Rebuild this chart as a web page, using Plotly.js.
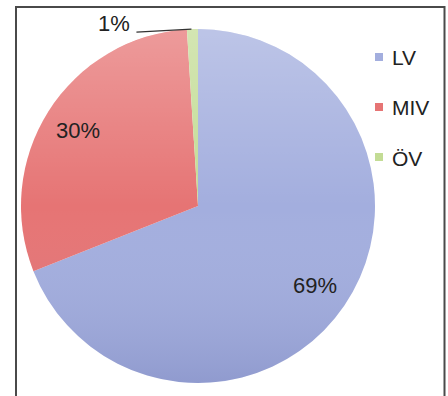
<!DOCTYPE html>
<html>
<head>
<meta charset="utf-8">
<script src="https://cdn.plot.ly/plotly-3.0.1.min.js"></script>
<style>
  html, body { margin: 0; padding: 0; background: #fff; }
  #chart { width: 448px; height: 396px; }
</style>
</head>
<body>
<div id="chart"></div>
<script>
// Modal split: share of trips per mode
const categories = ['LV', 'MIV', 'ÖV'];
const shares = [69, 30, 1];
const sliceColors = ['#a3aede', '#e67474', '#c3dc95'];

// Page geometry (pixels)
const W = 448, H = 396;
const cx = 198, cy = 206, R = 177;
const px = x => x / W;
const py = y => 1 - y / H;

const total = shares.reduce((a, b) => a + b, 0);
const labelFont = { family: 'Liberation Sans, Arial, sans-serif', size: 22, color: '#222' };

// Percentage labels placed along each slice's middle angle
const annotations = [];
const shapes = [];
let cum = 0;
shares.forEach((v, i) => {
  const mid = (cum + v / 2) / total * 2 * Math.PI;
  cum += v;
  const text = v + '%';
  if (v / total >= 0.05) {
    annotations.push({
      xref: 'paper', yref: 'paper',
      x: px(cx + 0.8 * R * Math.sin(mid)), y: py(cy - 0.8 * R * Math.cos(mid)),
      text: text, showarrow: false, font: labelFont,
      xanchor: 'center', yanchor: 'middle'
    });
  } else {
    // small slice: label outside with a leader line to the rim
    const ex = cx + R * Math.sin(mid), ey = cy - R * Math.cos(mid);
    const lx = ex - 56, ly = ey + 3;
    shapes.push({
      type: 'line', xref: 'paper', yref: 'paper',
      x0: px(ex - 1), y0: py(ey), x1: px(lx), y1: py(ly),
      line: { color: '#333', width: 1.3 }
    });
    annotations.push({
      xref: 'paper', yref: 'paper',
      x: px(lx - 4), y: py(ly - 9),
      text: text, showarrow: false, font: labelFont,
      xanchor: 'right', yanchor: 'middle'
    });
  }
});

// Legend: colour key squares with mode names
const legendX = 375, legendY0 = 57, legendStep = 50;
categories.forEach((c, i) => {
  const y = legendY0 + i * legendStep;
  shapes.push({
    type: 'rect', xref: 'paper', yref: 'paper',
    x0: px(legendX), x1: px(legendX + 8), y0: py(y - 4), y1: py(y + 4),
    fillcolor: sliceColors[i], line: { width: 0 }
  });
  annotations.push({
    xref: 'paper', yref: 'paper',
    x: px(legendX + 15), y: py(y + 1),
    text: c, showarrow: false,
    font: { family: 'Liberation Sans, Arial, sans-serif', size: 21, color: '#222' },
    xanchor: 'left', yanchor: 'middle'
  });
});

// Chart frame
shapes.push({
  type: 'rect', xref: 'paper', yref: 'paper',
  x0: px(16), x1: px(444.5), y0: py(420), y1: py(7),
  line: { color: '#4a4a4a', width: 2 }, fillcolor: 'rgba(0,0,0,0)'
});

// Soft top-to-bottom shading over the pie
const shadeSvg =
  '<svg xmlns="http://www.w3.org/2000/svg" width="354" height="354" viewBox="0 0 354 354">' +
  '<defs><linearGradient id="g" x1="0" y1="0" x2="0" y2="1">' +
  '<stop offset="0" stop-color="#ffffff" stop-opacity="0.28"/>' +
  '<stop offset="0.5" stop-color="#ffffff" stop-opacity="0"/>' +
  '<stop offset="1" stop-color="#1a2370" stop-opacity="0.14"/>' +
  '</linearGradient></defs>' +
  '<circle cx="177" cy="177" r="177" fill="url(#g)"/></svg>';

const trace = {
  type: 'pie',
  labels: categories,
  values: shares,
  sort: false,
  direction: 'clockwise',
  rotation: 0,
  marker: { colors: sliceColors, line: { width: 0 } },
  textinfo: 'none',
  hoverinfo: 'label+percent',
  showlegend: false,
  domain: { x: [px(cx - R), px(cx + R)], y: [py(cy + R), py(cy - R)] }
};

const layout = {
  width: W, height: H,
  margin: { l: 0, r: 0, t: 0, b: 0 },
  paper_bgcolor: '#ffffff',
  showlegend: false,
  annotations: annotations,
  shapes: shapes,
  images: [{
    source: 'data:image/svg+xml;charset=utf-8,' + encodeURIComponent(shadeSvg),
    xref: 'paper', yref: 'paper',
    x: px(cx - R), y: py(cy - R), sizex: 2 * R / W, sizey: 2 * R / H,
    xanchor: 'left', yanchor: 'top', sizing: 'stretch', layer: 'above'
  }]
};

Plotly.newPlot('chart', [trace], layout, { displayModeBar: false, staticPlot: true });
</script>
</body>
</html>
